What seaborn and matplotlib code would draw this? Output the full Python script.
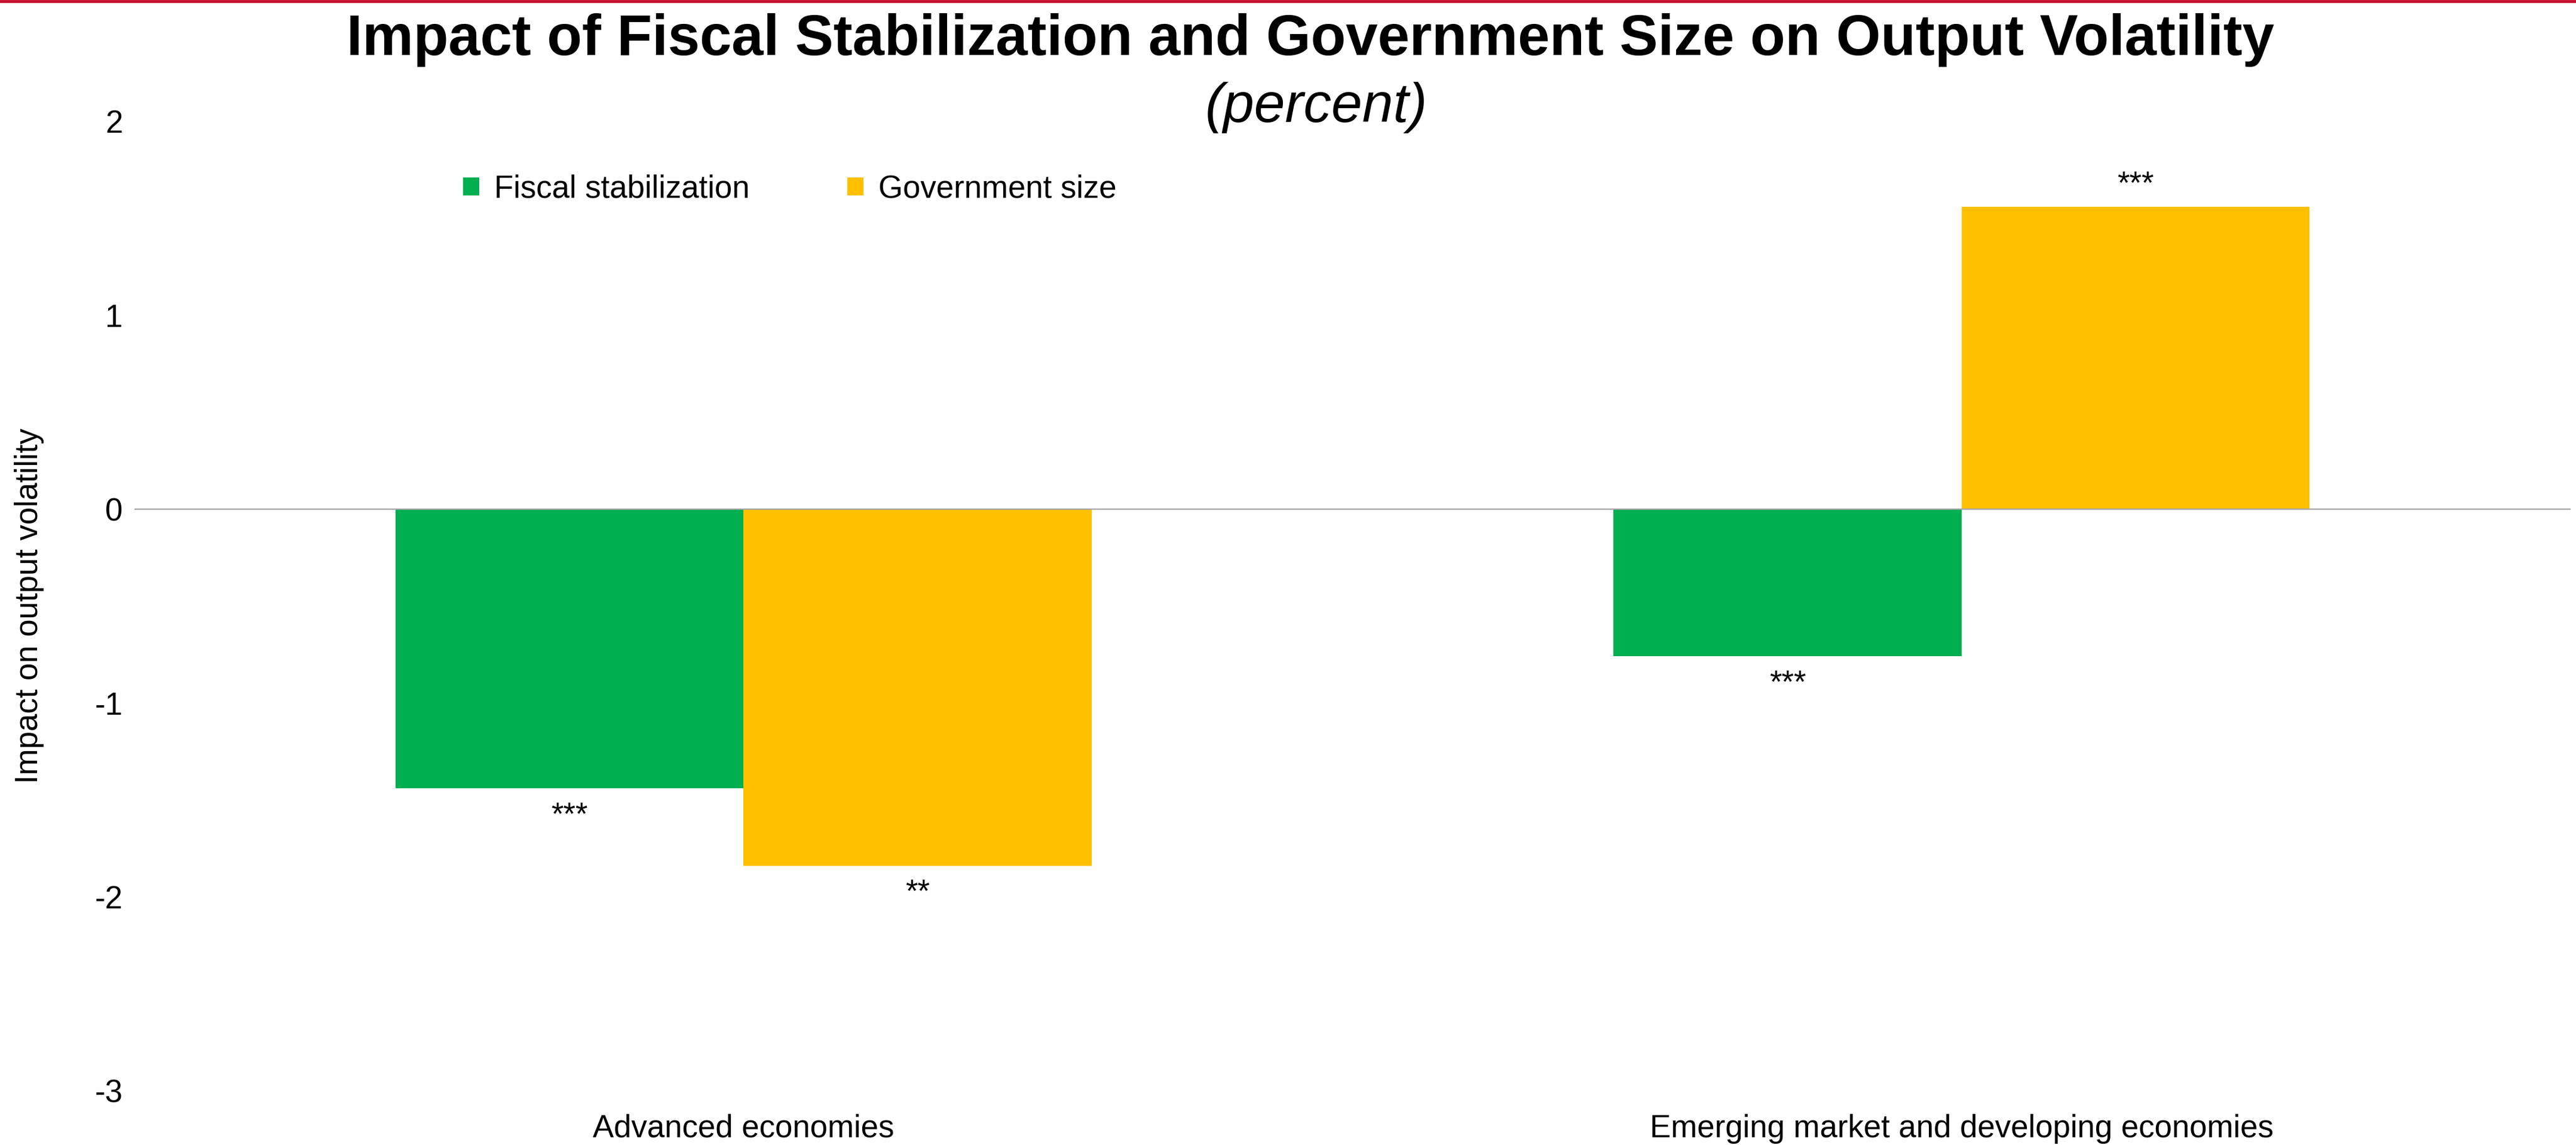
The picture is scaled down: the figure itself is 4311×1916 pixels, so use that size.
import matplotlib
matplotlib.use("Agg")
import matplotlib.pyplot as plt
import seaborn as sns
import pandas as pd

# Chart data
groups = ["Advanced economies", "Emerging market and developing economies"]
series = ["Fiscal stabilization", "Government size"]
fiscal_stabilization = [-1.44, -0.76]
government_size = [-1.84, 1.56]
fiscal_sig = ["***", "***"]
government_sig = ["**", "***"]
y_ticks = [-3, -2, -1, 0, 1, 2]

colors = ["#00AF50", "#FFC000"]

df = pd.DataFrame({
    "group": groups * 2,
    "series": [series[0]] * len(groups) + [series[1]] * len(groups),
    "value": fiscal_stabilization + government_size,
})

sns.set_theme(style="white")
plt.rcParams["font.family"] = ["Liberation Sans", "DejaVu Sans"]
plt.rcParams["axes.unicode_minus"] = False
plt.rcParams["text.color"] = "black"

W, H, DPI = 4311, 1916, 100
fig = plt.figure(figsize=(W / DPI, H / DPI), dpi=DPI)
ax = fig.add_axes([225 / W, 1 - 1825 / H, (4302 - 225) / W, (1825 - 203) / H])

sns.barplot(data=df, x="group", y="value", hue="series", hue_order=series,
            order=groups, palette=colors, saturation=1, width=0.5714,
            errorbar=None, linewidth=0, ax=ax)

ax.set_xlim(-0.5, 1.5)
ax.set_ylim(-3, 2)
ax.set_yticks(y_ticks)
ax.set_yticklabels([str(t) for t in y_ticks])
ax.axhline(0, color="#A6A6A6", lw=1.6, zorder=5)

for side in ["top", "right", "bottom", "left"]:
    ax.spines[side].set_visible(False)
ax.tick_params(axis="y", length=0, pad=14, labelsize=38, labelcolor="black")
ax.tick_params(axis="x", length=0, pad=28, labelsize=38, labelcolor="black")
ax.set_xlabel("")
ax.set_ylabel("Impact on output volatility", fontsize=38, color="black")
ax.yaxis.set_label_coords(-0.037, 0.5)

# Significance stars beyond the end of each bar
for container, sig in zip(ax.containers, [fiscal_sig, government_sig]):
    for bar, lab in zip(container, sig):
        x = bar.get_x() + bar.get_width() / 2
        h = bar.get_height()
        end = bar.get_y() + h
        offset = 16 if h >= 0 else -43
        ax.annotate(lab, xy=(x, end), xytext=(0, offset),
                    textcoords="offset points", ha="center", va="baseline",
                    fontsize=38, color="black")

# Legend
handles, labels = ax.get_legend_handles_labels()
ax.legend(handles, labels, loc="center left", bbox_to_anchor=(0.1349, 0.930),
          ncol=2, frameon=False, fontsize=38, handlelength=0.51,
          handleheight=0.51, handletextpad=0.47, columnspacing=3.1,
          borderpad=0, borderaxespad=0, labelcolor="black")

# Title block and top rule
fig.text(2193 / W, 1 - 92 / H,
         "Impact of Fiscal Stabilization and Government Size on Output Volatility",
         ha="center", va="baseline", fontsize=69, fontweight="bold", color="black")
fig.text(2203 / W, 1 - 204 / H, "(percent)", ha="center", va="baseline",
         fontsize=67, fontstyle="italic", color="black")
fig.add_artist(plt.Line2D([0, 1], [1 - 2 / H, 1 - 2 / H], color="#C8102E",
                          lw=3.5, transform=fig.transFigure))

fig.savefig("out.png", dpi=DPI, facecolor="white")
